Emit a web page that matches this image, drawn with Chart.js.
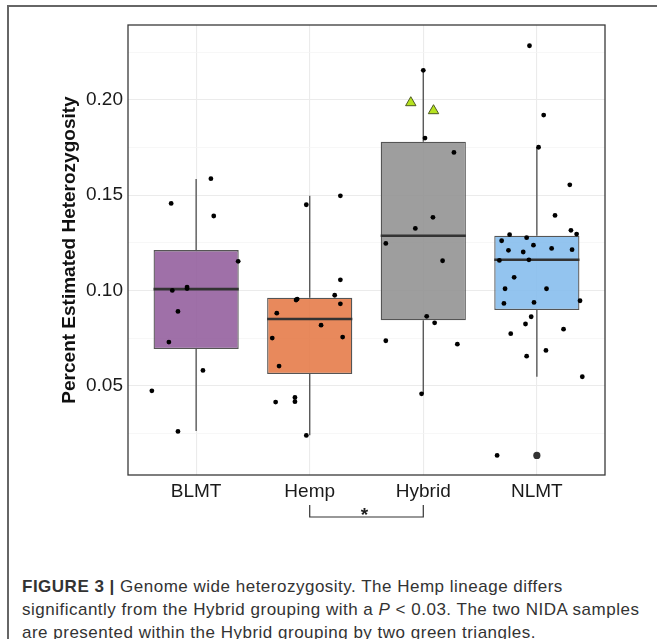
<!DOCTYPE html>
<html>
<head>
<meta charset="utf-8">
<script src="https://cdn.jsdelivr.net/npm/chart.js@4.4.0/dist/chart.umd.min.js"></script>
<style>
  body { margin: 0; background: #fff; }
  #wrap { position: relative; width: 657px; height: 639px; overflow: hidden; font-family: "Liberation Sans", Arial, sans-serif; }
  #frame { position: absolute; left: 7px; top: 5px; right: -5px; bottom: -5px; border-top: 2px solid #666; border-left: 2px solid #666; }
  #chart { position: absolute; left: 0; top: 0; }
  #caption { position: absolute; left: 22px; top: 575px; font-size: 17px; letter-spacing: 0.5px; line-height: 23.2px; color: #333; white-space: nowrap; }
</style>
</head>
<body>
<div id="wrap">
  <div id="frame"></div>
  <canvas id="chart" width="657" height="540"></canvas>
  <div id="caption"><b>FIGURE 3 |</b> Genome wide heterozygosity. The Hemp lineage differs<br>significantly from the Hybrid grouping with a <i>P</i> &lt; 0.03. The two NIDA samples<br>are presented within the Hybrid grouping by two green triangles.</div>
</div>
<script>
// Groups
const categories = ['BLMT', 'Hemp', 'Hybrid', 'NLMT'];

// Box summary per group
const q1 = [0.0692, 0.0561, 0.0843, 0.0897];
const median = [0.1007, 0.0850, 0.1287, 0.1161];
const q3 = [0.1212, 0.0962, 0.1781, 0.1287];
const whiskerLow = [0.0262, 0.0240, 0.0457, 0.0547];
const whiskerHigh = [0.1585, 0.1497, 0.2156, 0.1752];
const outlierValues = [[], [], [], [0.0134]];

// Individual samples (value + horizontal jitter in category units)
const blmtValues = [0.1457, 0.1587, 0.1391, 0.1153, 0.1000, 0.1018, 0.1010, 0.0890, 0.0729, 0.0580, 0.0473, 0.0260];
const blmtJitter = [-0.22, 0.13, 0.155, 0.37, -0.21, -0.08, -0.08, -0.16, -0.24, 0.06, -0.39, -0.16];

const hempValues = [0.1497, 0.1450, 0.1056, 0.0955, 0.0950, 0.0975, 0.0930, 0.0881, 0.0818, 0.0755, 0.0750, 0.0603, 0.0414, 0.0438, 0.0416, 0.0239];
const hempJitter = [0.27, -0.03, 0.27, -0.11, -0.12, 0.22, 0.27, -0.29, 0.10, 0.29, -0.33, -0.27, -0.30, -0.13, -0.13, -0.03];

const hybridValues = [0.2156, 0.1800, 0.1725, 0.1384, 0.1326, 0.1247, 0.1156, 0.0864, 0.0830, 0.0736, 0.0718, 0.0457];
const hybridJitter = [0, 0.015, 0.27, 0.085, -0.07, -0.33, 0.17, 0.03, 0.10, -0.33, 0.30, -0.015];

const nlmtValues = [0.2285, 0.1921, 0.1752, 0.1555, 0.1394, 0.1316, 0.1296, 0.1293, 0.1277, 0.1261, 0.1238, 0.1211, 0.1202, 0.1221, 0.1214, 0.1158, 0.1161, 0.1069, 0.1009, 0.1009, 0.0932, 0.0937, 0.0946, 0.0862, 0.0824, 0.0797, 0.0773, 0.0685, 0.0655, 0.0547, 0.0134];
const nlmtJitter = [-0.065, 0.06, 0.015, 0.29, 0.16, 0.30, 0.35, -0.24, -0.09, -0.31, -0.03, -0.25, -0.12, 0.13, 0.31, -0.33, -0.07, -0.20, -0.28, 0.085, -0.29, -0.025, 0.38, -0.05, -0.10, 0.235, -0.23, 0.08, -0.09, 0.40, -0.35];

// NIDA samples (inside Hybrid)
const nidaValues = [0.1986, 0.1944];
const nidaJitter = [-0.11, 0.09];

const boxColors = ['rgba(149,96,158,0.9)', 'rgba(229,124,74,0.9)', 'rgba(147,147,147,0.9)', 'rgba(135,190,237,0.9)'];

const FONT = '"Liberation Sans", Arial, sans-serif';

function jittered(values, jitter, group) {
    return values.map((v, k) => ({ x: group + 1 + jitter[k], y: v }));
}

function isMajor(v) {
    return Math.abs(Math.round(v * 1000) % 50) === 0;
}

// Build whisker / median segments
const whiskerData = [];
const medianData = [];
categories.forEach((c, i) => {
    whiskerData.push({ x: i + 1, y: whiskerLow[i] }, { x: i + 1, y: q1[i] }, { x: i + 1, y: null });
    whiskerData.push({ x: i + 1, y: q3[i] }, { x: i + 1, y: whiskerHigh[i] }, { x: i + 1, y: null });
    medianData.push({ x: i + 1 - 0.375, y: median[i] }, { x: i + 1 + 0.375, y: median[i] }, { x: i + 1, y: null });
});

const sampleData = [].concat(
    jittered(blmtValues, blmtJitter, 0),
    jittered(hempValues, hempJitter, 1),
    jittered(hybridValues, hybridJitter, 2),
    jittered(nlmtValues, nlmtJitter, 3)
);

const outlierData = [];
outlierValues.forEach((list, i) => list.forEach(v => outlierData.push({ x: i + 1, y: v })));

// Panel border drawn over everything
const panelBorder = {
    id: 'panelBorder',
    afterDatasetsDraw(chart) {
        const { ctx, chartArea: a } = chart;
        ctx.save();
        ctx.strokeStyle = '#3a3a3a';
        ctx.lineWidth = 1.3;
        ctx.strokeRect(a.left, a.top, a.right - a.left, a.bottom - a.top);
        ctx.restore();
    }
};

// Significance bracket between Hemp and Hybrid
const sigBracket = {
    id: 'sigBracket',
    afterDraw(chart) {
        const { ctx, chartArea: a } = chart;
        const x1 = chart.scales.x.getPixelForValue(2);
        const x2 = chart.scales.x.getPixelForValue(3);
        const yTop = a.bottom + 30;
        const yBot = a.bottom + 42;
        ctx.save();
        ctx.strokeStyle = '#333';
        ctx.lineWidth = 1.2;
        ctx.beginPath();
        ctx.moveTo(x1, yTop);
        ctx.lineTo(x1, yBot);
        ctx.lineTo(x2, yBot);
        ctx.lineTo(x2, yTop);
        ctx.stroke();
        ctx.fillStyle = '#222';
        ctx.font = 'bold 19px ' + FONT;
        ctx.textAlign = 'center';
        ctx.textBaseline = 'middle';
        ctx.fillText('*', (x1 + x2) / 2 - 2, yBot - 1);
        ctx.restore();
    }
};

const ctx = document.getElementById('chart').getContext('2d');
new Chart(ctx, {
    type: 'scatter',
    data: {
        datasets: [
            {
                type: 'scatter',
                data: sampleData,
                backgroundColor: '#000',
                borderWidth: 0,
                pointRadius: 2.4,
                order: 0
            },
            {
                type: 'scatter',
                data: outlierData,
                backgroundColor: '#333',
                borderWidth: 0,
                pointRadius: 3.6,
                order: 0
            },
            {
                type: 'scatter',
                data: jittered(nidaValues, nidaJitter, 2),
                pointStyle: 'triangle',
                backgroundColor: '#b6e21f',
                borderColor: '#4d5a22',
                borderWidth: 1,
                pointRadius: 6,
                order: 0
            },
            {
                type: 'line',
                data: medianData,
                borderColor: '#333',
                borderWidth: 2.6,
                pointRadius: 0,
                spanGaps: false,
                fill: false,
                order: 1
            },
            {
                type: 'bar',
                data: categories.map((c, i) => ({ x: i + 1, y: [q1[i], q3[i]] })),
                backgroundColor: boxColors,
                borderColor: '#555',
                borderWidth: 1.3,
                borderSkipped: false,
                categoryPercentage: 1,
                barPercentage: 0.75,
                order: 2
            },
            {
                type: 'line',
                data: whiskerData,
                borderColor: '#5a5a5a',
                borderWidth: 1.4,
                pointRadius: 0,
                spanGaps: false,
                fill: false,
                order: 3
            }
        ]
    },
    options: {
        responsive: false,
        animation: false,
        devicePixelRatio: 1,
        layout: { padding: { left: 48, right: 52, top: 25, bottom: 35 } },
        plugins: {
            legend: { display: false },
            tooltip: { enabled: false }
        },
        scales: {
            x: {
                type: 'linear',
                min: 0.4,
                max: 4.6,
                offset: false,
                afterFit: s => { s.height = 30; },
                afterBuildTicks: s => { s.ticks = categories.map((c, i) => ({ value: i + 1 })); },
                border: { display: false },
                grid: { color: '#ebebeb', lineWidth: 1.1, drawTicks: false, offset: false },
                ticks: {
                    padding: 5,
                    color: '#1a1a1a',
                    autoSkip: false,
                    maxRotation: 0,
                    font: { size: 19, family: FONT },
                    callback: (v, i) => categories[i]
                }
            },
            y: {
                type: 'linear',
                min: 0.0031,
                max: 0.2394,
                afterFit: s => { s.width = 80; },
                border: { display: false },
                grid: {
                    drawTicks: false,
                    color: c => isMajor(c.tick.value) ? '#ebebeb' : '#f4f4f4',
                    lineWidth: c => isMajor(c.tick.value) ? 1.1 : 0.7
                },
                ticks: {
                    stepSize: 0.025,
                    includeBounds: false,
                    padding: 5,
                    color: '#1a1a1a',
                    font: { size: 19, family: FONT },
                    callback: v => isMajor(v) ? v.toFixed(2) : ''
                },
                title: {
                    display: true,
                    text: 'Percent Estimated Heterozygosity',
                    color: '#111',
                    font: { size: 19, weight: 'bold', family: FONT },
                    padding: { top: 10, bottom: 0 }
                }
            }
        }
    },
    plugins: [panelBorder, sigBracket]
});
</script>
</body>
</html>
